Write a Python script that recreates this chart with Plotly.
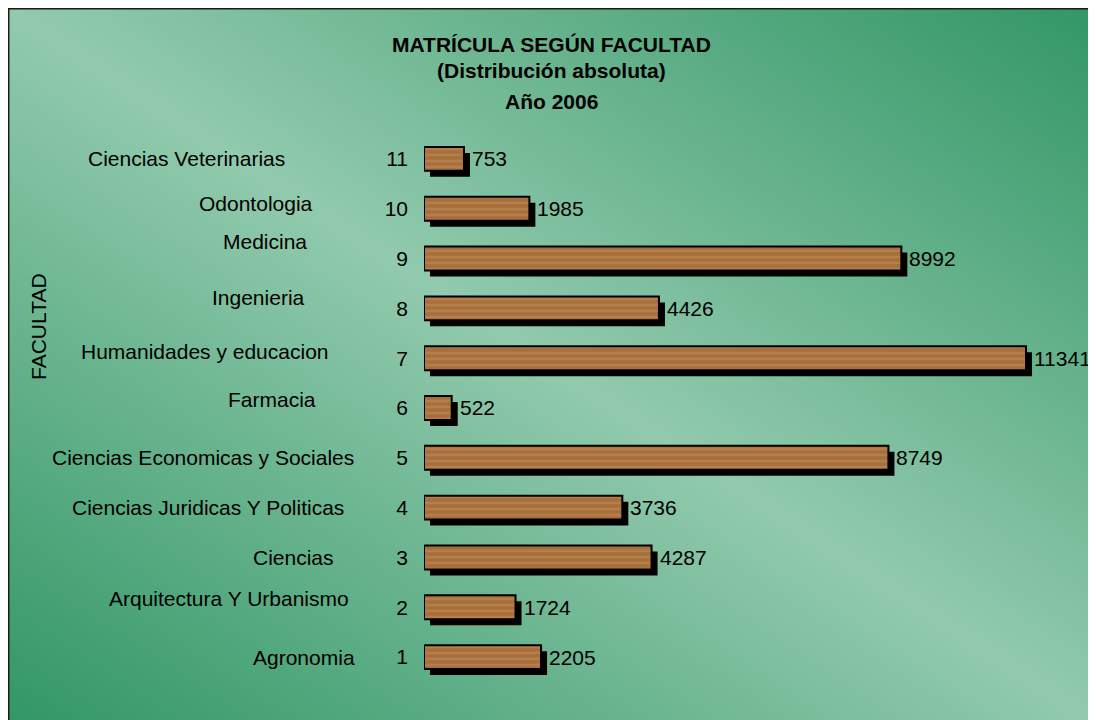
import base64
import struct
import zlib

import plotly.graph_objects as go

# ---------------- data ----------------
codes = [1, 2, 3, 4, 5, 6, 7, 8, 9, 10, 11]
tick_labels = ["1", "2", "3", "4", "5", "6", "7", "8", "9", "10", "11"]
faculties = [
    "Agronomia",
    "Arquitectura Y Urbanismo",
    "Ciencias",
    "Ciencias Juridicas Y Politicas",
    "Ciencias Economicas y Sociales",
    "Farmacia",
    "Humanidades y educacion",
    "Ingenieria",
    "Medicina",
    "Odontologia",
    "Ciencias Veterinarias",
]
enrolment = [2205, 1724, 4287, 3736, 8749, 522, 11341, 4426, 8992, 1985, 753]

title_lines = ["MATRÍCULA SEGÚN FACULTAD", "(Distribución absoluta)", "Año 2006"]
axis_title = "FACULTAD"

# ---------------- layout / style ----------------
# The page body has an 8px margin, so the figure's origin sits at page (8, 8).
OFF = 8
W, H = 1084, 712
FONT = "Liberation Sans, Arial, sans-serif"
FS = 21


def px(xp):   # page x pixel -> paper fraction
    return (xp - OFF) / W


def py(yp):   # page y pixel (from top) -> paper fraction
    return 1 - (yp - OFF) / H


X0_PX, X1_PX = 424, 1061          # plot area horizontal page pixels
Y_TOP_PX, Y_BOT_PX = 134, 682     # plot area vertical page pixels
XMAX = 12000
BAR_W = 0.48
SHADOW_PX = 6
dx = SHADOW_PX * XMAX / (X1_PX - X0_PX)
dy = SHADOW_PX * 11 / (Y_BOT_PX - Y_TOP_PX)

# faculty label placement (right edge page px, vertical shift px)
label_right_px = [357, 351, 336, 346, 356, 318, 331, 307, 309, 315, 287]
label_yshift = [0, 9, 0, 0, 0, 8, 7, 11, 17, 5, 0]
title_y_px = [44, 71, 101]


def gradient_png(w, h, light=(146, 202, 174), dark=(51, 151, 102)):
    raw = bytearray()
    for j in range(h):
        v = j / (h - 1)
        raw.append(0)
        for i in range(w):
            u = i / (w - 1)
            t = min(1.0, abs(u - v))
            for c in range(3):
                raw.append(int(round(light[c] + (dark[c] - light[c]) * t)))

    def chunk(tag, data):
        c = struct.pack(">I", len(data)) + tag + data
        return c + struct.pack(">I", zlib.crc32(tag + data) & 0xFFFFFFFF)

    png = b"\x89PNG\r\n\x1a\n"
    png += chunk(b"IHDR", struct.pack(">IIBBBBB", w, h, 8, 2, 0, 0, 0))
    png += chunk(b"IDAT", zlib.compress(bytes(raw), 9))
    png += chunk(b"IEND", b"")
    return "data:image/png;base64," + base64.b64encode(png).decode()


fig = go.Figure()

# shadow bars
fig.add_trace(go.Bar(
    x=enrolment, y=codes, orientation="h",
    base=dx, width=BAR_W, offset=-BAR_W / 2 - dy,
    marker=dict(color="#000000", line=dict(width=0)),
    hoverinfo="skip", showlegend=False,
))

# main bars
fig.add_trace(go.Bar(
    x=enrolment, y=codes, orientation="h",
    width=BAR_W,
    marker=dict(
        color="#A66E3C",
        line=dict(color="#000000", width=2),
        pattern=dict(shape="-", bgcolor="#A86F3B", fgcolor="#C39262",
                     fgopacity=0.45, size=6, solidity=0.4),
    ),
    showlegend=False,
))

annotations = []
# value labels
for v, c in zip(enrolment, codes):
    annotations.append(dict(
        x=v, y=c, xref="x", yref="y", text=str(v), showarrow=False,
        xanchor="left", yanchor="middle", xshift=SHADOW_PX,
        font=dict(family=FONT, size=FS, color="#000000"),
    ))
# faculty labels
for name, c, rpx, ys in zip(faculties, codes, label_right_px, label_yshift):
    annotations.append(dict(
        x=px(rpx), y=c, xref="paper", yref="y", text=name, showarrow=False,
        xanchor="right", yanchor="middle", yshift=ys,
        font=dict(family=FONT, size=FS, color="#000000"),
    ))
# title
for line, ypx in zip(title_lines, title_y_px):
    annotations.append(dict(
        x=px(551), y=py(ypx), xref="paper", yref="paper",
        text="<b>" + line + "</b>", showarrow=False,
        xanchor="center", yanchor="middle",
        font=dict(family=FONT, size=FS, color="#000000"),
    ))
# axis title
annotations.append(dict(
    x=px(38), y=py(327), xref="paper", yref="paper", text=axis_title,
    textangle=-90, showarrow=False, xanchor="center", yanchor="middle",
    font=dict(family=FONT, size=FS, color="#000000"),
))

fig.update_layout(
    width=W, height=H,
    margin=dict(l=0, r=0, t=0, b=0),
    paper_bgcolor="#FFFFFF",
    plot_bgcolor="rgba(0,0,0,0)",
    barmode="overlay",
    showlegend=False,
    xaxis=dict(
        domain=[px(X0_PX), px(X1_PX)], range=[0, XMAX],
        showgrid=False, zeroline=False, showline=False,
        showticklabels=False, ticks="", fixedrange=True,
    ),
    yaxis=dict(
        domain=[py(Y_BOT_PX), py(Y_TOP_PX)], range=[0.5, 11.5],
        tickmode="array", tickvals=codes, ticktext=tick_labels,
        showgrid=False, zeroline=False, showline=False, ticks="",
        ticklabelstandoff=15,
        tickfont=dict(family=FONT, size=FS, color="#000000"),
        fixedrange=True,
    ),
    annotations=annotations,
    images=[dict(
        source=gradient_png(320, 220),
        xref="paper", yref="paper",
        x=0, y=1, sizex=1, sizey=1,
        xanchor="left", yanchor="top", sizing="stretch", layer="below",
    )],
    shapes=[dict(
        type="rect", xref="paper", yref="paper",
        x0=0.7 / W, x1=1 - 0.7 / W, y0=-0.05, y1=1 - 0.7 / H,
        line=dict(color="#1A1A1A", width=1.5), fillcolor="rgba(0,0,0,0)",
        layer="above",
    )],
)

fig.write_html("out.html", config={"displayModeBar": False})
